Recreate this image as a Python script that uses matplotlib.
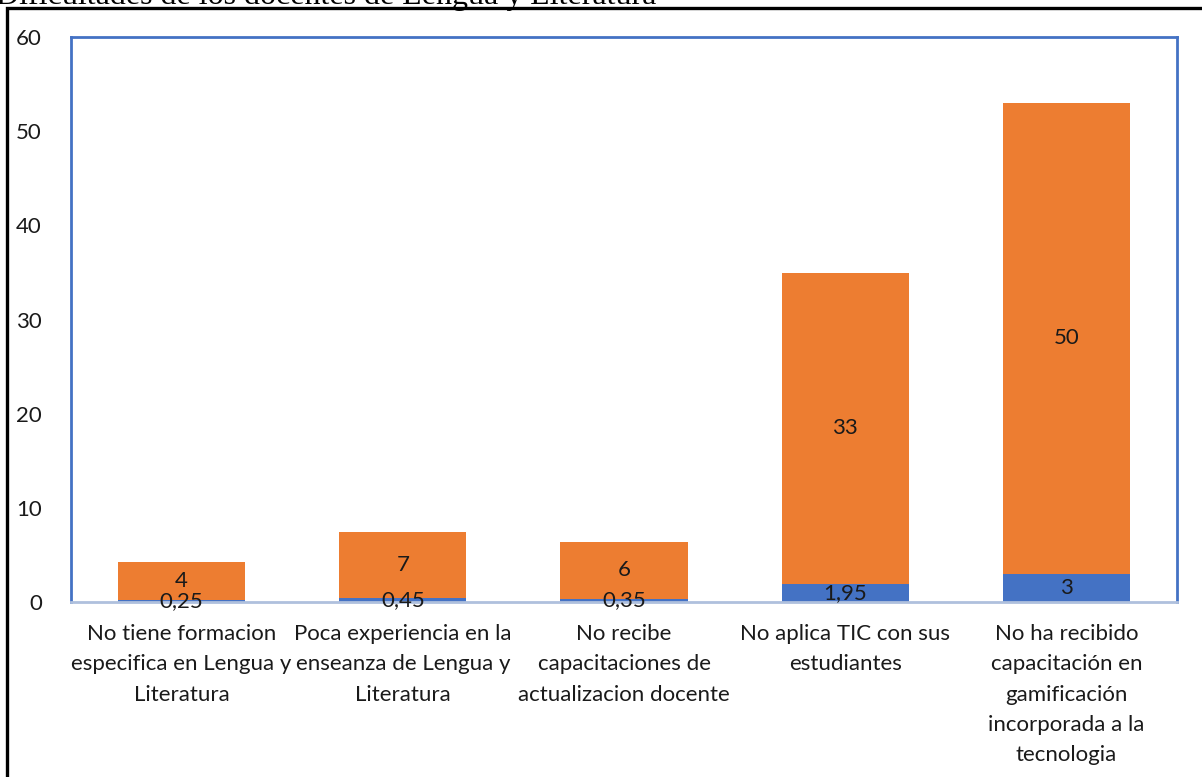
import numpy as np
import matplotlib.pyplot as plt
from matplotlib.patches import Rectangle

categories = [
    'No tiene formacion\nespecifica en Lengua y\nLiteratura',
    'Poca experiencia en la\nenseanza de Lengua y\nLiteratura',
    'No recibe\ncapacitaciones de\nactualizacion docente',
    'No aplica TIC con sus\nestudiantes',
    'No ha recibido\ncapacitación en\ngamificación\nincorporada a la\ntecnologia',
]
blue_vals = [0.25, 0.45, 0.35, 1.95, 3]
orange_vals = [4, 7, 6, 33, 50]
blue_labels = ['0,25', '0,45', '0,35', '1,95', '3']
orange_labels = ['4', '7', '6', '33', '50']

BLUE = '#4472C4'
ORANGE = '#ED7D31'

plt.rcParams['font.family'] = ['Lato', 'DejaVu Sans']

W, H = 1202, 777
fig = plt.figure(figsize=(W / 100, H / 100), dpi=100)
ax = fig.add_axes([71 / W, 1 - 602 / H, (1177 - 71) / W, (602 - 37) / H])

x = np.arange(len(categories))
width = 0.575
ax.bar(x, blue_vals, width, color=BLUE, zorder=2)
ax.bar(x, orange_vals, width, bottom=blue_vals, color=ORANGE, zorder=2)

for i in range(len(x)):
    ax.text(x[i], blue_vals[i] / 2, blue_labels[i], ha='center', va='center',
            fontsize=16, color='#1a1a1a', zorder=3)
    ax.text(x[i], blue_vals[i] + orange_vals[i] / 2, orange_labels[i], ha='center',
            va='center', fontsize=16, color='#1a1a1a', zorder=3)

ax.set_xlim(-0.5, len(x) - 0.5)
ax.set_ylim(0, 60)
ax.set_yticks(np.arange(0, 61, 10))
ax.set_xticks(x)
ax.set_xticklabels(categories, fontsize=16, linespacing=1.64)
ax.tick_params(axis='both', length=0, colors='#1a1a1a')
ax.tick_params(axis='y', labelsize=16, pad=21)
ax.tick_params(axis='x', pad=16)

for side in ['left', 'right', 'top']:
    ax.spines[side].set_color(BLUE)
    ax.spines[side].set_linewidth(2)
ax.spines['bottom'].set_color('#AFC0DD')
ax.spines['bottom'].set_linewidth(2)

# outer black frame of the figure (cut at the right and bottom edges)
fig.patches.append(Rectangle((7 / W, -0.05), 1.1, 1.05 - 8 / H,
                             transform=fig.transFigure, fill=False,
                             edgecolor='black', linewidth=2.4))

# cut off caption above the chart
fig.text(-0.003, 1 - 4 / H, 'Dificultades de los docentes de Lengua y Literatura',
         fontsize=23, family='Liberation Serif', ha='left', va='baseline')

fig.savefig('out.png', dpi=100)
